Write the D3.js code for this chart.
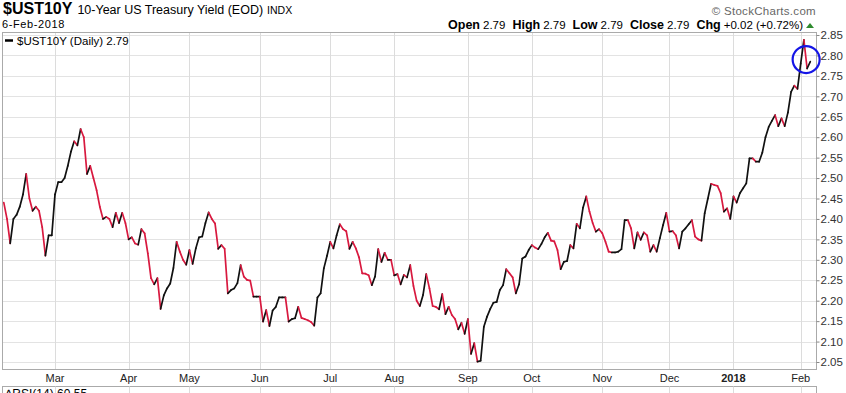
<!DOCTYPE html>
<html>
<head>
<meta charset="utf-8">
<script src="https://cdn.jsdelivr.net/npm/d3@7"></script>
<style>
  body { margin: 0; background: #fff; }
  text { font-family: "Liberation Sans", Arial, sans-serif; }
</style>
</head>
<body>
<script>
// 10-year yield, daily closes, 6-Feb-2017 .. 6-Feb-2018 (trading days)
var feb17 = [2.44, 2.40, 2.34, 2.40, 2.41, 2.43, 2.46, 2.51, 2.45, 2.42, 2.43, 2.42, 2.38, 2.31, 2.36, 2.36];
var mar17 = [2.46, 2.49, 2.49, 2.50, 2.53, 2.565, 2.59, 2.58, 2.62, 2.60, 2.51, 2.53, 2.50, 2.47, 2.43, 2.40, 2.405, 2.40, 2.38, 2.415, 2.39, 2.415, 2.39];
var apr17 = [2.35, 2.355, 2.34, 2.337, 2.375, 2.365, 2.316, 2.255, 2.24, 2.255, 2.18, 2.213, 2.23, 2.242, 2.28, 2.344, 2.32, 2.30, 2.288];
var may17 = [2.324, 2.29, 2.328, 2.355, 2.357, 2.39, 2.416, 2.40, 2.389, 2.327, 2.336, 2.327, 2.218, 2.226, 2.23, 2.243, 2.287, 2.259, 2.251, 2.249, 2.21, 2.21];
var jun17 = [2.21, 2.149, 2.177, 2.138, 2.176, 2.185, 2.208, 2.208, 2.208, 2.149, 2.155, 2.157, 2.185, 2.158, 2.155, 2.152, 2.148, 2.139, 2.208, 2.218, 2.279, 2.31];
var jul17 = [2.344, 2.328, 2.36, 2.387, 2.375, 2.37, 2.327, 2.344, 2.328, 2.306, 2.267, 2.266, 2.262, 2.238, 2.259, 2.326, 2.295, 2.317, 2.30, 2.30];
var aug17 = [2.262, 2.265, 2.24, 2.263, 2.257, 2.287, 2.236, 2.20, 2.187, 2.214, 2.265, 2.23, 2.187, 2.185, 2.179, 2.216, 2.167, 2.185, 2.165, 2.155, 2.13, 2.146, 2.119];
var sep17 = [2.155, 2.07, 2.096, 2.051, 2.053, 2.136, 2.161, 2.18, 2.195, 2.197, 2.226, 2.238, 2.277, 2.267, 2.257, 2.218, 2.24, 2.303, 2.308, 2.324];
var oct17 = [2.336, 2.33, 2.326, 2.339, 2.355, 2.366, 2.347, 2.345, 2.324, 2.277, 2.295, 2.297, 2.336, 2.328, 2.388, 2.377, 2.428, 2.455, 2.418, 2.39, 2.369, 2.375];
var nov17 = [2.365, 2.344, 2.32, 2.318, 2.318, 2.32, 2.326, 2.397, 2.397, 2.377, 2.328, 2.367, 2.349, 2.367, 2.36, 2.32, 2.336, 2.32, 2.353, 2.385, 2.415];
var dec17 = [2.369, 2.37, 2.36, 2.328, 2.369, 2.377, 2.387, 2.397, 2.357, 2.35, 2.347, 2.414, 2.45, 2.486, 2.483, 2.481, 2.463, 2.418, 2.426, 2.40];
var jan18 = [2.455, 2.44, 2.463, 2.475, 2.487, 2.548, 2.548, 2.54, 2.54, 2.562, 2.60, 2.625, 2.64, 2.654, 2.627, 2.646, 2.627, 2.66, 2.711, 2.726, 2.718];
var feb18 = [2.78, 2.838, 2.768, 2.785];

// month labels and the trading-day index where each month starts
var monthLabels = ["Mar", "Apr", "May", "Jun", "Jul", "Aug", "Sep", "Oct", "Nov", "Dec", "2018", "Feb"];
var monthStart  = [16, 39, 58, 80, 102, 122, 145, 165, 187, 208, 228, 249];

var yTicks = [2.05, 2.10, 2.15, 2.20, 2.25, 2.30, 2.35, 2.40, 2.45, 2.50, 2.55, 2.60, 2.65, 2.70, 2.75, 2.80, 2.85];

var values = [].concat(feb17, mar17, apr17, may17, jun17, jul17, aug17, sep17, oct17, nov17, dec17, jan18, feb18);

var W = 846, H = 393;
var box = {left: 2.5, right: 816.5, top: 32.5, bottom: 369.5};

var svg = d3.select("body").append("svg")
    .attr("width", W)
    .attr("height", H);

var x = d3.scaleLinear().domain([0, values.length - 1]).range([3.8, 810.3]);
var y = d3.scaleLinear().domain([2.05, 2.85]).range([362, 35]);

// ---- header ----
var title = svg.append("text").attr("x", 3).attr("y", 14);
title.append("tspan").attr("font-weight", "bold").attr("font-size", "16px").text("$UST10Y");
title.append("tspan").attr("font-size", "12.5px").attr("dx", 5).text("10-Year US Treasury Yield (EOD)");
title.append("tspan").attr("font-size", "10.5px").attr("dx", 4).text("INDX");

svg.append("text")
    .attr("x", 2).attr("y", 28)
    .attr("font-size", "11px")
    .attr("letter-spacing", "0.6px")
    .text("6-Feb-2018");

svg.append("text")
    .attr("x", 816).attr("y", 15)
    .attr("text-anchor", "end")
    .attr("font-size", "11.5px")
    .attr("fill", "#666")
    .attr("letter-spacing", "0.3px")
    .text("\u00A9 StockCharts.com");

var ohlc = svg.append("text").attr("x", 803).attr("y", 29).attr("text-anchor", "end").attr("font-size", "11.5px");
[["Open", "2.79"], ["High", "2.79"], ["Low", "2.79"], ["Close", "2.79"], ["Chg", "+0.02 (+0.72%)"]].forEach(function(p, k) {
  ohlc.append("tspan").attr("font-weight", "bold").attr("font-size", "12.5px").attr("dx", k ? 7 : 0).text(p[0]);
  ohlc.append("tspan").attr("dx", 3).text(p[1]);
});
svg.append("path")
    .attr("d", "M806,28 L814,28 L810,23 Z")
    .attr("fill", "#2e8b2e");

// ---- grid and frame ----
var grid = svg.append("g");
grid.selectAll("line.h")
    .data(yTicks)
  .enter().append("line")
    .attr("x1", box.left).attr("x2", box.right)
    .attr("y1", function(d) { return Math.round(y(d)) + 0.5; })
    .attr("y2", function(d) { return Math.round(y(d)) + 0.5; })
    .attr("stroke", "#e3e3e3");

grid.selectAll("line.v")
    .data(monthStart)
  .enter().append("line")
    .attr("x1", function(d) { return Math.round(x(d)) + 0.5; })
    .attr("x2", function(d) { return Math.round(x(d)) + 0.5; })
    .attr("y1", box.top).attr("y2", box.bottom)
    .attr("stroke", "#dcdcdc");

svg.append("rect")
    .attr("x", box.left).attr("y", box.top)
    .attr("width", box.right - box.left).attr("height", box.bottom - box.top)
    .attr("fill", "none").attr("stroke", "#aaa");

// right axis
var yAxis = d3.axisRight(y).tickValues(yTicks).tickSize(3).tickPadding(1)
    .tickFormat(d3.format(".2f"));
var ax = svg.append("g")
    .attr("transform", "translate(" + box.right + ",0)")
    .call(yAxis);
ax.select(".domain").remove();
ax.selectAll("line").attr("stroke", "#888");
ax.selectAll("text")
    .attr("font-family", "'Liberation Sans', Arial, sans-serif")
    .attr("font-size", "11.5px")
    .attr("fill", "#333");

// month labels
svg.append("g").selectAll("text")
    .data(monthStart)
  .enter().append("text")
    .attr("x", function(d) { return x(d); })
    .attr("y", 382)
    .attr("text-anchor", "middle")
    .attr("font-family", "'Liberation Sans Narrow', 'Arial Narrow', 'Liberation Sans', sans-serif")
    .attr("font-size", "11px")
    .attr("font-weight", function(d, i) { return monthLabels[i] == "2018" ? "bold" : "normal"; })
    .attr("fill", "#222")
    .text(function(d, i) { return monthLabels[i]; });

// RSI panel (cut off at the bottom)
svg.append("rect")
    .attr("x", box.left).attr("y", 386.5)
    .attr("width", box.right - box.left).attr("height", 30)
    .attr("fill", "none").attr("stroke", "#aaa");
svg.append("g").selectAll("line")
    .data(monthStart)
  .enter().append("line")
    .attr("x1", function(d) { return Math.round(x(d)) + 0.5; })
    .attr("x2", function(d) { return Math.round(x(d)) + 0.5; })
    .attr("y1", 386.5).attr("y2", H)
    .attr("stroke", "#dcdcdc");
svg.append("text")
    .attr("x", 5).attr("y", 398)
    .attr("font-family", "'DejaVu Sans Mono', 'Liberation Mono', monospace")
    .attr("font-size", "12px")
    .text("\u2206RSI(14) 60.55");

// ---- price line, red on down days, black on up days ----
var segs = values.slice(1).map(function(v, i) {
  return {a: i, b: i + 1, down: v < values[i]};
});
svg.append("g").selectAll("line")
    .data(segs)
  .enter().append("line")
    .attr("x1", function(d) { return x(d.a); })
    .attr("y1", function(d) { return y(values[d.a]); })
    .attr("x2", function(d) { return x(d.b); })
    .attr("y2", function(d) { return y(values[d.b]); })
    .attr("stroke", function(d) { return d.down ? "#d8193f" : "#111"; })
    .attr("stroke-width", 1.7)
    .attr("stroke-linecap", "round");

// legend
svg.append("line")
    .attr("x1", 5).attr("x2", 13).attr("y1", 40.5).attr("y2", 40.5)
    .attr("stroke", "#000").attr("stroke-width", 2.5);
svg.append("text")
    .attr("x", 17).attr("y", 45)
    .attr("font-family", "'DejaVu Sans Mono', 'Liberation Mono', monospace")
    .attr("font-size", "11.5px")
    .text("$UST10Y (Daily) 2.79");

// blue circle around the latest close
svg.append("circle")
    .attr("cx", x(values.length - 2.3))
    .attr("cy", y(2.79))
    .attr("r", 13.5)
    .attr("fill", "none")
    .attr("stroke", "#1515e6")
    .attr("stroke-width", 2.2);
</script>
</body>
</html>
